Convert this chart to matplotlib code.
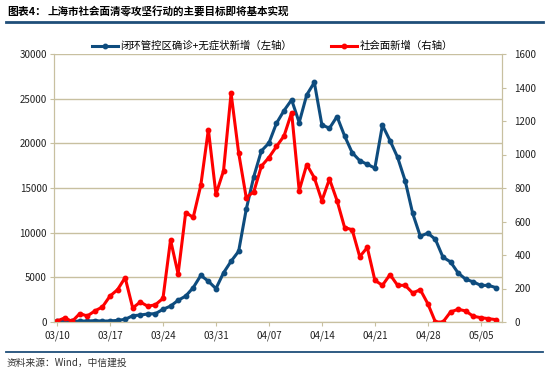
import matplotlib
matplotlib.use("Agg")
import matplotlib.pyplot as plt
import numpy as np
from datetime import date, timedelta

plt.rcParams['font.family'] = ['Noto Sans CJK SC', 'DejaVu Sans']

# 2022-03-10 .. 2022-05-07, one point per day
start = date(2022, 3, 10)
n_days = 59
dates = [start + timedelta(days=i) for i in range(n_days)]

# 闭环管控区确诊+无症状新增 (left axis)
closed_loop = [70, 50, 60, 110, 110, 150, 100, 120, 180, 300,
               700, 780, 900, 930, 1420, 1780, 2430, 2900, 3850, 5220,
               4560, 3740, 5500, 6800, 7920, 12600, 16270, 19150, 20030, 22250,
               23670, 24870, 22330, 25430, 26820, 22070, 21690, 23000, 20830, 18960,
               18060, 17650, 17230, 22030, 20310, 18440, 15820, 12150, 9600, 9950,
               9250, 7250, 6730, 5490, 4790, 4490, 4100, 4100, 3850]

# 社会面新增 (right axis)
community = [6, 24, 4, 50, 36, 66, 90, 155, 193, 265,
             84, 119, 94, 103, 141, 490, 287, 653, 625, 817,
             1149, 763, 902, 1365, 1010, 743, 777, 930, 982, 1048,
             1111, 1250, 785, 940, 861, 724, 854, 725, 564, 551,
             390, 445, 249, 219, 283, 219, 219, 173, 193, 109,
             0, 0, 60, 76, 66, 34, 26, 20, 14]

tick_days = list(range(0, n_days, 7))
tick_labels = [dates[i].strftime('%m/%d') for i in tick_days]

blue = '#0E4C7E'
red = '#FF0000'
grid_c = '#C8C0A0'

fig = plt.figure(figsize=(5.5, 3.73), dpi=100)
ax = fig.add_axes([54 / 550, 1 - 322 / 373, 448 / 550, 268 / 373])
ax2 = ax.twinx()

x = np.arange(n_days)
l1, = ax.plot(x, closed_loop, color=blue, lw=2.2, marker='o', ms=3.2,
              label='闭环管控区确诊+无症状新增（左轴）')
l2, = ax2.plot(x, community, color=red, lw=2.2, marker='o', ms=3.2,
               label='社会面新增（右轴）')

ax.set_xlim(-0.4, 58.8)
ax.set_ylim(0, 30000)
ax2.set_ylim(0, 1600)
ax.set_yticks(range(0, 30001, 5000))
ax2.set_yticks(range(0, 1601, 200))
ax.set_xticks(tick_days)
ax.set_xticklabels(tick_labels)

ax.yaxis.grid(True, color=grid_c, lw=1)
ax.set_axisbelow(True)

for a in (ax, ax2):
    for s in a.spines.values():
        s.set_color(grid_c)
    a.spines['top'].set_visible(False)
    a.tick_params(colors='#222222', labelsize=7, length=3, width=0.8)
    a.tick_params(axis='both', color=grid_c)
ax.tick_params(axis='x', pad=3)
ax.tick_params(axis='y', pad=2)
ax2.tick_params(axis='y', pad=6)

fig.legend(handles=[l1, l2], loc='center', bbox_to_anchor=(0.495, 1 - 46 / 373),
           ncol=2, frameon=False, fontsize=7.5, handlelength=2.5,
           columnspacing=3.8, handletextpad=0.2)

fig.text(7 / 550, 1 - 12 / 373, '图表4：', fontsize=7.8, fontweight='bold',
         va='center', ha='left')
fig.text(48 / 550, 1 - 12 / 373, '上海市社会面清零攻坚行动的主要目标即将基本实现',
         fontsize=7.6, fontweight='bold', va='center', ha='left')
fig.add_artist(plt.Line2D([6 / 550, 543 / 550], [1 - 21.7 / 373] * 2,
                          color='#1F4E79', lw=2))
fig.add_artist(plt.Line2D([6 / 550, 543 / 550], [1 - 352 / 373] * 2,
                          color='#1F4E79', lw=1.3))
fig.text(7 / 550, 1 - 363 / 373, '资料来源：Wind，中信建投', fontsize=7,
         style='italic', va='center', ha='left', color='#333333')

fig.savefig('out.png', dpi=100)
